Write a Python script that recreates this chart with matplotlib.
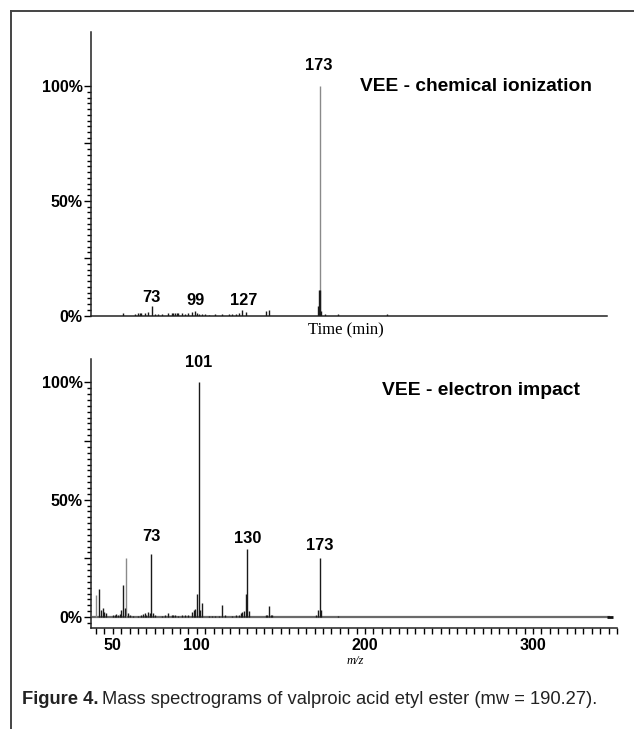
import numpy as np
import matplotlib.pyplot as plt
from matplotlib.lines import Line2D
from matplotlib.ticker import FixedLocator, FixedFormatter, MultipleLocator

plt.rcParams['font.family'] = ['Liberation Sans', 'DejaVu Sans']

# chemical ionization spectrum (m/z, relative intensity %)
ci_mz = [56, 63, 65, 66, 67, 69, 71, 73, 75, 77, 79, 83, 85, 86, 87, 88, 89, 91, 93,
         95, 97, 99, 100, 101, 103, 105, 107, 111, 115, 119, 121, 123, 125, 127, 129,
         141, 143, 172, 172.7, 173, 173.3, 174, 176, 184, 213]
ci_int = [1.0, 0.5, 1.0, 1.2, 1.0, 1.2, 1.5, 4.0, 0.6, 0.5, 0.6, 1.0, 1.0, 1.2, 1.0,
          1.3, 1.0, 1.2, 0.8, 1.0, 1.4, 1.8, 1.2, 0.8, 0.6, 0.5, 0.4, 0.5, 0.6, 0.5,
          0.8, 0.6, 1.3, 2.5, 1.6, 1.8, 2.6, 4.0, 11.0, 100.0, 11.0, 2.0, 0.8, 0.6, 0.5]
ci_gray = [173]

# electron impact spectrum
ei_mz = [40, 42, 43, 44, 45, 46, 50, 51, 52, 53, 54, 55, 56, 57, 58, 59, 60, 62, 65,
         67, 68, 69, 70, 71, 72, 73, 74, 75, 79, 81, 83, 85, 86, 87, 89, 91, 93, 95,
         97, 98, 99, 100, 101, 102, 103, 107, 109, 111, 113, 115, 117, 121, 123, 125,
         126, 127, 128, 129, 130, 131, 141, 142, 143, 144, 145, 171, 172, 173, 174, 184]
ei_int = [9.5, 12.0, 3.0, 4.0, 2.0, 1.5, 0.8, 1.0, 1.2, 1.0, 1.3, 3.0, 13.7, 4.0, 25.0,
          1.5, 0.8, 0.6, 0.6, 1.0, 1.2, 1.5, 1.0, 2.0, 1.5, 27.0, 1.5, 1.0, 0.6, 0.8,
          1.5, 0.8, 1.0, 0.8, 0.6, 0.8, 0.8, 1.0, 2.0, 3.0, 3.5, 10.0, 100.0, 3.0, 6.0,
          0.5, 0.5, 0.6, 0.5, 5.0, 0.8, 0.6, 0.8, 1.0, 1.5, 2.0, 2.5, 10.0, 29.0, 2.5,
          0.8, 0.8, 4.5, 0.8, 0.8, 1.0, 3.0, 25.0, 3.0, 0.6]
ei_gray = [40, 58]

ci_labels = [(73, 7.9, '73'), (99, 6.5, '99'), (128, 6.5, '127'), (172.5, 109, '173')]
ei_labels = [(73, 34.2, '73'), (101, 108.5, '101'), (130, 33.3, '130'), (173, 30.3, '173')]

W, H = 634, 729
fig = plt.figure(figsize=(W / 100, H / 100), dpi=100)


def px_axes(left, top, right, bottom):
    return fig.add_axes([left / W, 1 - bottom / H, (right - left) / W, (bottom - top) / H])


def draw_peaks(ax, mz, inten, gray):
    mz = np.array(mz)
    inten = np.array(inten)
    is_gray = np.isin(mz, gray)
    ax.vlines(mz[is_gray], 0, inten[is_gray], colors='#8a8a8a', lw=1.0, zorder=2)
    ax.vlines(mz[~is_gray], 0, inten[~is_gray], colors='#1a1a1a', lw=1.0, zorder=3)


def style_y(ax):
    ax.yaxis.set_major_locator(FixedLocator([0, 25, 50, 75, 100]))
    ax.yaxis.set_major_formatter(FixedFormatter(['0%', '', '50%', '', '100%']))
    ax.yaxis.set_minor_locator(FixedLocator(np.arange(0, 100.1, 2.5)))
    ax.tick_params(axis='y', which='major', length=5, width=1.0, pad=1,
                   labelsize=11.5)
    ax.tick_params(axis='y', which='minor', length=3, width=1.0)
    for lab in ax.get_yticklabels():
        lab.set_fontweight('bold')
    for s in ['top', 'right']:
        ax.spines[s].set_visible(False)
    for s in ['left', 'bottom']:
        ax.spines[s].set_color('#222222')
        ax.spines[s].set_linewidth(1.1)


# top panel: chemical ionization
ax1 = px_axes(91, 32, 607, 315.5)
ax1.set_xlim(37, 344)
ax1.set_ylim(0, 123.6)
draw_peaks(ax1, ci_mz, ci_int, ci_gray)
style_y(ax1)
ax1.set_xticks([])
for x, y, t in ci_labels:
    ax1.text(x, y, t, ha='center', va='center', fontsize=11.8, fontweight='bold')
ax1.text(197, 100, 'VEE - chemical ionization', ha='left', va='center',
         fontsize=13.8, fontweight='bold')
fig.text(346 / W, 1 - 330 / H, 'Time (min)', ha='center', va='center',
         fontsize=12, family=['Liberation Serif', 'DejaVu Serif'])

# bottom panel: electron impact
ax2 = px_axes(91, 359, 617, 628)
ax2.set_xlim(37, 350)
ax2.set_ylim(-4.7, 110)
ax2.hlines(0, 37.5, 346, colors='#6a6a6a', lw=1.6, zorder=1)
ax2.hlines(0, 344, 347.5, colors='#111111', lw=2.0, zorder=1)
draw_peaks(ax2, ei_mz, ei_int, ei_gray)
style_y(ax2)
ax2.yaxis.set_minor_locator(FixedLocator(np.arange(-2.5, 100.1, 2.5)))
ax2.xaxis.set_major_locator(FixedLocator([50, 100, 200, 300]))
ax2.xaxis.set_minor_locator(MultipleLocator(5))
ax2.tick_params(axis='x', which='both', length=4, width=1.0, labelsize=11.5, pad=3)
for lab in ax2.get_xticklabels():
    lab.set_fontweight('bold')
for x, y, t in ei_labels:
    ax2.text(x, y, t, ha='center', va='center', fontsize=11.8, fontweight='bold')
ax2.text(210, 96.6, 'VEE - electron impact', ha='left', va='center',
         fontsize=13.9, fontweight='bold')
fig.text(355 / W, 1 - 661 / H, 'm/z', ha='center', va='center', fontsize=9,
         style='italic', family=['Liberation Serif', 'DejaVu Serif'])

# outer frame
fig.add_artist(Line2D([11 / W, 1], [1 - 11 / H, 1 - 11 / H], color='#444444', lw=1.4))
fig.add_artist(Line2D([11 / W, 11 / W], [0, 1 - 11 / H], color='#444444', lw=1.4))

# caption
cap_font = ['Liberation Sans', 'DejaVu Sans']
t1 = fig.text(22 / W, 1 - 700 / H, 'Figure 4.', ha='left', va='center',
              fontsize=13.2, fontweight='bold', family=cap_font, color='#222222')
fig.canvas.draw()
bb = t1.get_window_extent()
fig.text((bb.x1 + 4) / W, 1 - 700 / H,
         'Mass spectrograms of valproic acid etyl ester (mw = 190.27).',
         ha='left', va='center', fontsize=13.2, family=cap_font, color='#222222')

fig.savefig('out.png', dpi=100)
